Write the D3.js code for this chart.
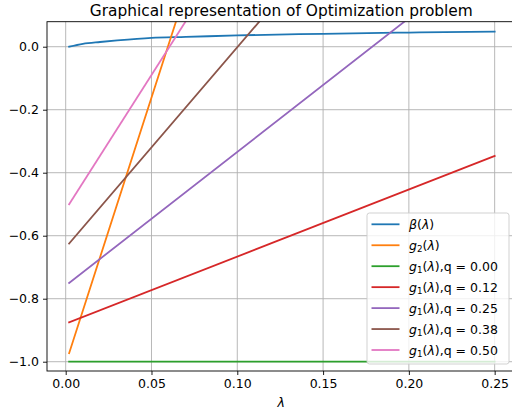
<!DOCTYPE html>
<html>
<head>
<meta charset="utf-8">
<script src="https://cdn.jsdelivr.net/npm/d3@7"></script>
<style>
  html, body { margin: 0; padding: 0; background: #fff; }
  svg { display: block; font-family: "DejaVu Sans", sans-serif; }
</style>
</head>
<body>
<svg id="chart" width="512" height="417"></svg>
<script>
// λ values along the horizontal axis
const lambdaBeta = [0.002, 0.01, 0.02, 0.03, 0.05, 0.07, 0.10, 0.15, 0.20, 0.25];
const betaValues = [0.000, 0.009, 0.015, 0.020, 0.028, 0.031, 0.036, 0.041, 0.045, 0.048];

// straight lines: value at the first and last λ
const lambdaEnds = [0.002, 0.25];
const g2Values = [-0.973, 3.22];
const g1q000 = [-1.0, -1.0];
const g1q012 = [-0.875, -0.347];
const g1q025 = [-0.75, 0.303];
const g1q038 = [-0.625, 0.952];
const g1q050 = [-0.5, 1.62];

const qLabels = ["0.00", "0.12", "0.25", "0.38", "0.50"];
const xTicks = [0.00, 0.05, 0.10, 0.15, 0.20, 0.25];
const yTicks = [0.0, -0.2, -0.4, -0.6, -0.8, -1.0];
const colors = ["#1f77b4", "#ff7f0e", "#2ca02c", "#d62728", "#9467bd", "#8c564b", "#e377c2"];

const series = [
  { kind: "beta", xs: lambdaBeta, ys: betaValues },
  { kind: "g2", xs: lambdaEnds, ys: g2Values },
  { kind: "g1", q: qLabels[0], xs: lambdaEnds, ys: g1q000 },
  { kind: "g1", q: qLabels[1], xs: lambdaEnds, ys: g1q012 },
  { kind: "g1", q: qLabels[2], xs: lambdaEnds, ys: g1q025 },
  { kind: "g1", q: qLabels[3], xs: lambdaEnds, ys: g1q038 },
  { kind: "g1", q: qLabels[4], xs: lambdaEnds, ys: g1q050 }
];

const svg = d3.select("#chart");
const L = 47, T = 21.7, R = 515.6, B = 371;
const x = d3.scaleLinear().domain([-0.0109, 0.2622]).range([L, R]);
const y = d3.scaleLinear().domain([-1.0295, 0.0794]).range([B, T]);
const fontSize = 12.5;

svg.append("defs").append("clipPath").attr("id", "plotclip")
  .append("rect").attr("x", L).attr("y", T).attr("width", R - L).attr("height", B - T);

// grid
const grid = svg.append("g");
grid.selectAll(".gx").data(xTicks).enter().append("line")
  .attr("x1", d => x(d)).attr("x2", d => x(d)).attr("y1", T).attr("y2", B)
  .attr("stroke", "#b0b0b0").attr("stroke-width", 0.9);
grid.selectAll(".gy").data(yTicks).enter().append("line")
  .attr("y1", d => y(d)).attr("y2", d => y(d)).attr("x1", L).attr("x2", R)
  .attr("stroke", "#b0b0b0").attr("stroke-width", 0.9);

// lines (β is a smooth curve, the rest are straight)
const smooth = d3.line().x(d => x(d[0])).y(d => y(d[1])).curve(d3.curveMonotoneX);
const lines = svg.append("g").attr("clip-path", "url(#plotclip)");
series.forEach((s, i) => {
  lines.append("path")
    .attr("d", smooth(s.xs.map((v, k) => [v, s.ys[k]])))
    .attr("fill", "none").attr("stroke", colors[i]).attr("stroke-width", 1.8)
    .attr("stroke-linecap", "square");
});

// axes
const fmtX = d3.format(".2f");
const fmtY = v => d3.format(".1f")(v).replace("-", "\u2212");
const xAxis = svg.append("g").attr("transform", `translate(0,${B})`)
  .call(d3.axisBottom(x).tickValues(xTicks).tickFormat(fmtX).tickSize(4).tickPadding(4));
const yAxis = svg.append("g").attr("transform", `translate(${L},0)`)
  .call(d3.axisLeft(y).tickValues(yTicks).tickFormat(fmtY).tickSize(4).tickPadding(4));
[xAxis, yAxis].forEach(a => {
  a.select(".domain").remove();
  a.selectAll("line").attr("stroke", "#000").attr("stroke-width", 0.9);
  a.selectAll("text").attr("font-size", fontSize).attr("fill", "#000")
    .attr("font-family", "DejaVu Sans");
});

// frame
svg.append("rect").attr("x", L).attr("y", T).attr("width", R - L).attr("height", B - T)
  .attr("fill", "none").attr("stroke", "#000").attr("stroke-width", 0.9);

// title and axis label
svg.append("text").attr("x", (L + R) / 2).attr("y", 15.5).attr("text-anchor", "middle")
  .attr("font-size", 15.4).text("Graphical representation of Optimization problem");
svg.append("text").attr("x", (L + R) / 2).attr("y", 407).attr("text-anchor", "middle")
  .attr("font-size", fontSize).attr("font-style", "italic").text("λ");

// legend
const lg = svg.append("g");
lg.append("rect").attr("x", 367).attr("y", 213).attr("width", 142).attr("height", 151)
  .attr("rx", 2.5).attr("fill", "#fff").attr("fill-opacity", 0.8)
  .attr("stroke", "#cccccc").attr("stroke-width", 0.9);

function labelMath(t, s) {
  if (s.kind === "beta") {
    t.append("tspan").attr("font-style", "italic").text("β");
    t.append("tspan").text("(");
    t.append("tspan").attr("font-style", "italic").text("λ");
    t.append("tspan").text(")");
    return;
  }
  t.append("tspan").attr("font-style", "italic").text("g");
  t.append("tspan").attr("font-size", fontSize * 0.7).attr("dy", 2.5)
    .text(s.kind === "g2" ? "2" : "1");
  t.append("tspan").attr("dy", -2.5).text("(");
  t.append("tspan").attr("font-style", "italic").text("λ");
  t.append("tspan").text(")");
  if (s.kind === "g1") t.append("tspan").text(",q = " + s.q);
}

series.forEach((s, i) => {
  const cy = 224.3 + i * 20.95;
  lg.append("line").attr("x1", 371.5).attr("x2", 399.5).attr("y1", cy).attr("y2", cy)
    .attr("stroke", colors[i]).attr("stroke-width", 1.8);
  const t = lg.append("text").attr("x", 409).attr("y", cy + 4.5).attr("font-size", fontSize);
  labelMath(t, s);
});
</script>
</body>
</html>
